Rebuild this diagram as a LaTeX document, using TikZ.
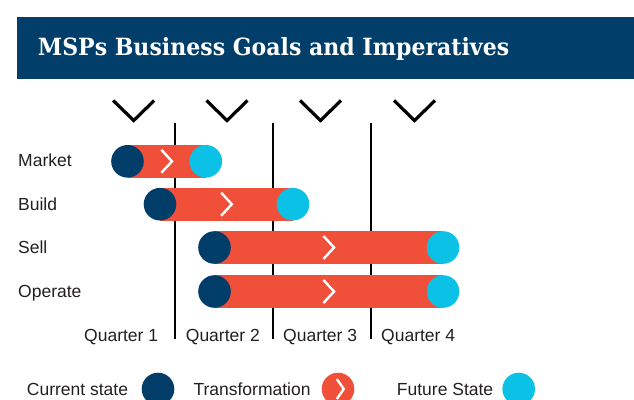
\documentclass[tikz,border=0pt]{standalone}
\usepackage{fontspec}
\setmainfont{Liberation Sans}
\newfontfamily\titlefont{DejaVu Serif}
\usetikzlibrary{calc}
\definecolor{headnavy}{HTML}{013E6A}
\definecolor{curnavy}{HTML}{003D69}
\definecolor{transred}{HTML}{F0503A}
\definecolor{futcyan}{HTML}{0BC2E6}
\definecolor{labelgray}{HTML}{231F20}
\begin{document}
\begin{tikzpicture}[x=1pt,y=-1pt,
  dot/.style={circle,fill=#1,draw=none,minimum size=32.6pt,inner sep=0pt},
  barfill/.style={fill=transred,draw=none},
  topchev/.style={draw=black,line width=3.2pt,miter limit=10},
  whitechev/.style={draw=white,line width=2.4pt},
  qline/.style={draw=black,line width=1.8pt},
  lbl/.style={anchor=base west,inner sep=0pt,text=labelgray,font=\fontsize{17.5}{21}\selectfont},
  ttl/.style={anchor=base west,inner sep=0pt,text=white,font=\titlefont\bfseries\fontsize{23.7}{28}\selectfont}
]
\useasboundingbox (0,0) rectangle (634,399);
% header
\fill[headnavy] (17,17.3) rectangle (634,78.7);
\node[ttl] (title) at (37.7,55) {\scalebox{0.93}[1]{MSPs Business Goals and Imperatives}};
% top chevrons
\foreach \cx/\nm in {133.7/c1,227/c2,320.5/c3,414.5/c4}{
  \coordinate (\nm) at (\cx,110);
  \draw[topchev] ($(\nm)+(-20.5,-9.5)$) -- ($(\nm)+(0,10.5)$) -- ($(\nm)+(20.5,-9.5)$);
}
% quarter lines
\foreach \lx/\nm in {174.7/l1,272.7/l2,370.7/l3}{
  \coordinate (\nm t) at (\lx,123.3);
  \coordinate (\nm b) at (\lx,339.3);
  \draw[qline] (\nm t) -- (\nm b);
}
% row labels
\node[lbl] (lmarket) at (18,166.7) {Market};
\node[lbl] (lbuild) at (18,210) {Build};
\node[lbl] (lsell) at (18,253.5) {Sell};
\node[lbl] (loperate) at (18,297.5) {Operate};
% bars
\foreach \nm/\xa/\xb/\yy in {mk/127.5/205.8/161.3, bd/160/293/204.2, sl/214.5/443/247.5, op/214.5/443/291.5}{
  \coordinate (\nm a) at (\xa,\yy);
  \coordinate (\nm b) at (\xb,\yy);
  \fill[barfill] ($(\nm a)+(0,-16.3)$) rectangle ($(\nm b)+(0,16.3)$);
  \node[dot=curnavy] (\nm cur) at (\nm a) {};
  \node[dot=futcyan] (\nm fut) at (\nm b) {};
  \coordinate (\nm mid) at ($(\nm cur)!0.5!(\nm fut)$);
  \draw[whitechev] ($(\nm mid)+(-5.3,-11.5)$) -- ($(\nm mid)+(5.3,0)$) -- ($(\nm mid)+(-5.3,11.5)$);
}
% quarter labels
\node[lbl] (q1) at (84,341.7) {Quarter 1};
\node[lbl] (q2) at (185.7,341.7) {Quarter 2};
\node[lbl] (q3) at (283,341.7) {Quarter 3};
\node[lbl] (q4) at (381,341.7) {Quarter 4};
% legend
\node[lbl] (legcur) at (26.7,395) {Current state};
\node[dot=curnavy] (legcurdot) at (158,389) {};
\node[lbl] (legtr) at (193.3,395) {Transformation};
\node[dot=transred] (legtrdot) at (338,389) {};
\draw[whitechev] ($(legtrdot)+(-1.2,-10)$) -- ($(legtrdot)+(5.8,0)$) -- ($(legtrdot)+(-1.2,10)$);
\node[lbl] (legfut) at (396.7,395) {Future State};
\node[dot=futcyan] (legfutdot) at (518.7,389) {};
\end{tikzpicture}
\end{document}
